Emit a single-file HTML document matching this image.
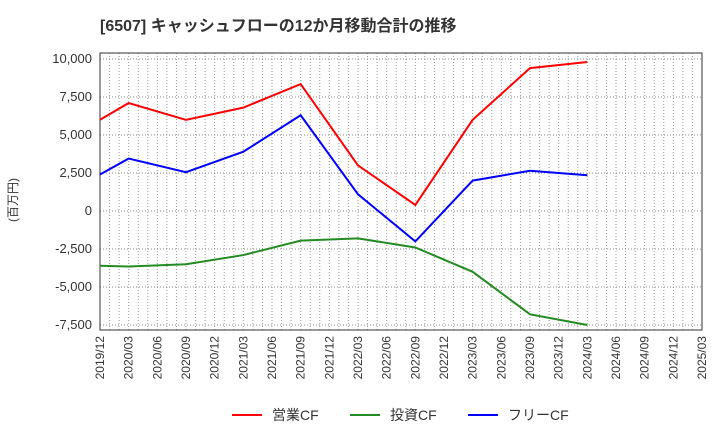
<!DOCTYPE html>
<html><head><meta charset="utf-8"><style>
body{margin:0;background:#fff;font-family:"Liberation Sans","Noto Sans CJK JP",sans-serif;}
</style></head><body>
<svg width="720" height="440" xmlns="http://www.w3.org/2000/svg">
<text x="100" y="31" font-size="16" font-weight="bold" fill="#333" font-family="Liberation Sans, Noto Sans CJK JP, sans-serif">[6507]  キャッシュフローの12か月移動合計の推移</text>
<g id="grid"></g>
<rect x="100" y="53" width="602" height="277" fill="none" stroke="#333" stroke-width="1"/>
<g id="yt"></g><g id="xt"></g><g id="series"></g>
<text transform="translate(17,200) rotate(-90)" text-anchor="middle" font-size="12" fill="#333" font-family="Liberation Sans, Noto Sans CJK JP, sans-serif">(百万円)</text>
<g font-size="14" fill="#333" font-family="Liberation Sans, Noto Sans CJK JP, sans-serif">
<g><line x1="232" y1="415" x2="262" y2="415" stroke="#ff0000" stroke-width="2"/><text x="272" y="420">営業CF</text></g>
<g><line x1="350" y1="415" x2="380" y2="415" stroke="#228b22" stroke-width="2"/><text x="390" y="420">投資CF</text></g>
<g><line x1="468" y1="415" x2="498" y2="415" stroke="#0000ff" stroke-width="2"/><text x="508" y="420">フリーCF</text></g>
</g>
</svg>
<script>
const xLabels=["2019/12","2020/03","2020/06","2020/09","2020/12","2021/03","2021/06","2021/09","2021/12","2022/03","2022/06","2022/09","2022/12","2023/03","2023/06","2023/09","2023/12","2024/03","2024/06","2024/09","2024/12","2025/03"];
const yTicks=[10000,7500,5000,2500,0,-2500,-5000,-7500];
const dataIdx=[0,1,3,5,7,9,11,13,15,17];
const operating=[6000,7100,6000,6800,8350,3000,400,6000,9400,9800];
const investing=[-3600,-3650,-3500,-2900,-1950,-1800,-2400,-4000,-6800,-7500];
const freeCF=[2400,3450,2550,3900,6300,1100,-2000,2000,2650,2350];
const NS="http://www.w3.org/2000/svg";
const X=i=>100+i*(602/21);
const Y=v=>211-v*0.0152;
function mk(t,a,p){const e=document.createElementNS(NS,t);for(const k in a)e.setAttribute(k,a[k]);p.appendChild(e);return e;}
const grid=document.getElementById('grid');
for(let m=1;m<63;m++){const x=100+m*602/63;
const l=mk('line',{x1:x,x2:x,y1:53,y2:330,stroke:'#999','stroke-dasharray':'1,2','stroke-width':1},grid);

}
yTicks.forEach(v=>{const y=Y(v);
const l=mk('line',{x1:100,x2:702,y1:y,y2:y,stroke:'#888','stroke-dasharray':'1,2','stroke-width':1},grid);

});
const yt=document.getElementById('yt');
yTicks.forEach(v=>{const t=mk('text',{x:92,y:Y(v)+4,'text-anchor':'end','font-size':13,fill:'#333'},yt);
t.textContent=v.toLocaleString('en-US');

});
const xt=document.getElementById('xt');
xLabels.forEach((s,i)=>{const x=X(i);const t=mk('text',{transform:`translate(${x+4},336) rotate(-90)`,'text-anchor':'end','font-size':12,fill:'#333'},xt);
t.textContent=s;

});
const sg=document.getElementById('series');
[[operating,'#ff0000','operating-cf-line'],[investing,'#228b22','investing-cf-line'],[freeCF,'#0000ff','free-cf-line']].forEach(([d,c,n])=>{
const pts=d.map((v,i)=>X(dataIdx[i])+','+Y(v)).join(' ');
const p=mk('polyline',{points:pts,fill:'none',stroke:c,'stroke-width':2},sg);

});
</script>
</body></html>
